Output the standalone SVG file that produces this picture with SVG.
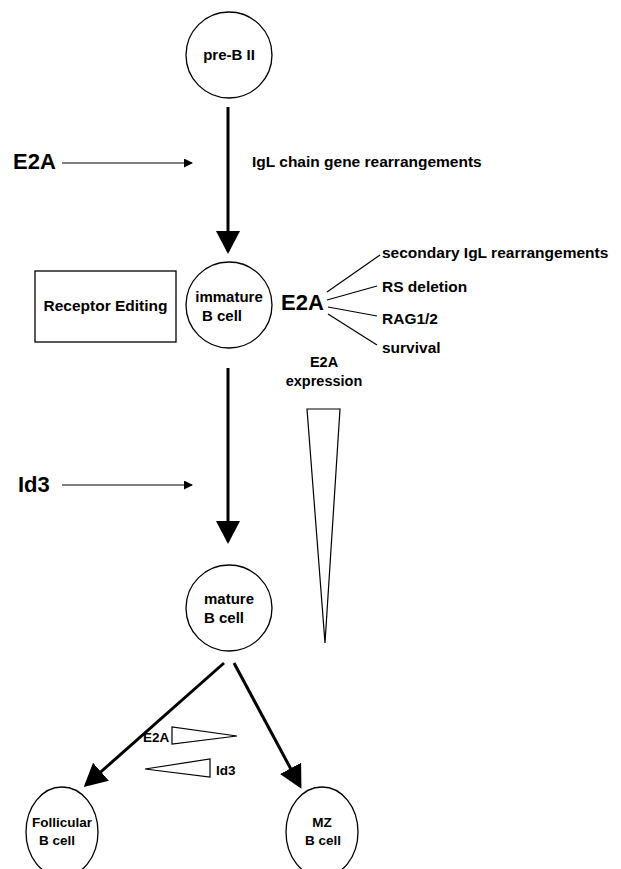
<svg xmlns="http://www.w3.org/2000/svg" width="621" height="869" viewBox="0 0 621 869">
<defs>
<style>
text{font-family:"Liberation Sans",Arial,sans-serif;font-weight:bold;fill:#000}
.node{fill:#fff;stroke:#000;stroke-width:1.3}
.big{font-size:22px}
.lab{font-size:15.5px}
.nl{font-size:15px}
.sm{font-size:13.5px}
.ex{font-size:14.5px}
.main{stroke:#000;stroke-width:3;fill:none}
.thin{stroke:#000;stroke-width:1.2;fill:none}
.tri{fill:#fff;stroke:#000;stroke-width:1.2}
</style>
<marker id="ah" markerUnits="userSpaceOnUse" markerWidth="24" markerHeight="24" refX="20" refY="12" orient="auto" viewBox="0 0 24 24">
<path d="M0,0 L23,12 L0,24 Z" fill="#000"/>
</marker>
<marker id="as" markerUnits="userSpaceOnUse" markerWidth="10" markerHeight="9" refX="8" refY="4.5" orient="auto" viewBox="0 0 10 9">
<path d="M0,0 L9,4.5 L0,9 Z" fill="#000"/>
</marker>
</defs>
<rect width="621" height="869" fill="#fff"/>

<g id="connectors">
<line class="main" x1="228" y1="107" x2="228" y2="251" marker-end="url(#ah)"/>
<line class="main" x1="228" y1="368" x2="228" y2="541" marker-end="url(#ah)"/>
<line class="main" x1="224" y1="663" x2="86" y2="785" marker-end="url(#ah)"/>
<line class="main" x1="234" y1="663" x2="300" y2="786" marker-end="url(#ah)"/>
<line class="thin" x1="62" y1="163" x2="192" y2="163" marker-end="url(#as)"/>
<line class="thin" x1="62" y1="485" x2="192" y2="485" marker-end="url(#as)"/>
<line class="thin" x1="327" y1="292" x2="380" y2="255"/>
<line class="thin" x1="327" y1="300" x2="377" y2="286"/>
<line class="thin" x1="328" y1="307" x2="377" y2="316"/>
<line class="thin" x1="328" y1="314" x2="377" y2="345"/>
</g>

<g id="preB">
<circle class="node" cx="229" cy="55" r="43"/>
<text class="nl" x="229" y="60" text-anchor="middle">pre-B II</text>
</g>

<g id="e2a-top">
<text class="big" x="13" y="169">E2A</text>
</g>

<g id="igl">
<text class="lab" x="252" y="167">IgL chain gene rearrangements</text>
</g>

<g id="receptor-editing">
<rect class="node" x="35" y="271" width="141" height="71"/>
<text class="lab" x="105.5" y="311" text-anchor="middle">Receptor Editing</text>
</g>

<g id="immature">
<circle class="node" cx="229" cy="305" r="43"/>
<text class="nl" x="229" y="302" text-anchor="middle">immature</text>
<text class="nl" x="202" y="321">B cell</text>
</g>

<g id="e2a-mid">
<text class="big" x="281" y="310">E2A</text>
</g>

<g id="targets">
<text class="lab" x="382" y="258">secondary IgL rearrangements</text>
<text class="lab" x="382" y="292">RS deletion</text>
<text class="lab" x="382" y="324">RAG1/2</text>
<text class="lab" x="382" y="353">survival</text>
</g>

<g id="e2a-expression">
<text class="ex" x="324" y="367" text-anchor="middle">E2A</text>
<text class="ex" x="324" y="386" text-anchor="middle">expression</text>
<polygon class="tri" points="307,409 340,409 325,643"/>
</g>

<g id="id3-top">
<text class="big" x="18" y="492">Id3</text>
</g>

<g id="mature">
<circle class="node" cx="229" cy="608" r="43"/>
<text class="nl" x="204" y="604">mature</text>
<text class="nl" x="204" y="623">B cell</text>
</g>

<g id="gradients">
<text class="sm" x="143" y="742">E2A</text>
<polygon class="tri" points="172,727 172,744 237,736"/>
<polygon class="tri" points="145,769 210,759 210,777"/>
<text class="sm" x="216" y="775">Id3</text>
</g>

<g id="follicular">
<ellipse class="node" cx="62" cy="832" rx="36" ry="45"/>
<text class="sm" x="62" y="827" text-anchor="middle">Follicular</text>
<text class="sm" x="39" y="845">B cell</text>
</g>

<g id="mz">
<ellipse class="node" cx="322" cy="832" rx="36" ry="45"/>
<text class="sm" x="322" y="827" text-anchor="middle">MZ</text>
<text class="sm" x="323" y="845" text-anchor="middle">B cell</text>
</g>
</svg>
